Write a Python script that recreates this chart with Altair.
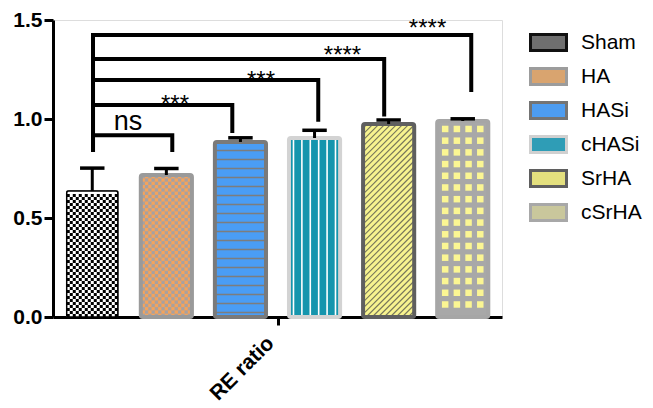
import altair as alt
import pandas as pd
import numpy as np

# ---------------- data ----------------
groups = ["Sham", "HA", "HASi", "cHASi", "SrHA", "cSrHA"]
means = [0.636, 0.717, 0.884, 0.904, 0.975, 0.990]
err_top = [0.752, 0.750, 0.905, 0.943, 0.995, 1.001]

bracket_start_x = 0.01
bracket_start_y = 0.833
bracket_y = [0.918, 1.071, 1.197, 1.303, 1.424]
bracket_end_x = [1.08, 1.89, 3.05, 3.94, 5.115]
bracket_drop = [0.833, 0.929, 0.986, 1.012, 1.136]
bracket_label = ["ns", "***", "***", "****", "****"]
label_x = [0.482, 1.117, 2.277, 3.377, 4.525]
label_y = [0.944, 1.036, 1.157, 1.283, 1.419]

y_ticks = [0.0, 0.5, 1.0, 1.5]
x_label = "RE ratio"

# ---------------- styles ----------------
legend_fill = ["#6f6f6f", "#d9a46f", "#4d9cf0", "#2f9db6", "#e4e07e", "#c9c79c"]
legend_stroke = ["#111111", "#9c9c9c", "#747474", "#d0d0d0", "#5f5f5f", "#a8a8a8"]
bg_fill = ["#ffffff", "#f3a35c", "#4a9df5", "#1595ad", "#f7f38f", "#a8a8a8"]
outline = ["#000000", "#9a9a9a", "#7a7a7a", "#d3d3d3", "#5f5f5f", "#a6a6a6"]
outline_w = [1.5, 4, 4, 4, 4, 4]

W, H = 449, 297
XMIN, XMAX = -0.53, 5.53
YMAX = 1.5
PX = W / (XMAX - XMIN)   # px per x unit
PY = H / YMAX            # px per y unit
HW = 0.345               # bar half width (x units)
FONT = "Liberation Sans"

bars = pd.DataFrame({
    "group": groups,
    "idx": list(range(len(groups))),
    "mean": means,
    "err": err_top,
    "bg": bg_fill,
    "ol": outline,
    "olw": outline_w,
})
bars["x0"] = bars["idx"] - HW
bars["x1"] = bars["idx"] + HW
bars["c0"] = bars["idx"] - 0.165
bars["c1"] = bars["idx"] + 0.165
bars["zero"] = 0.0

# ---------------- pattern textures (derived from bar heights) ----------------
rects = []   # x, x2, y, y2, color
rules = []   # x, x2, y, y2, color, width
bw = 2 * HW * PX
for i, (g, m) in enumerate(zip(groups, means)):
    left = (i - HW)
    hpx = m * PY
    def ux(u):
        return left + u / PX
    def vy(v):
        return v / PY
    if g in ("Sham", "HA"):
        c = 3.0 if g == "Sham" else 3.3
        col = "#000000" if g == "Sham" else "#a7a1a1"
        nx = int(bw // c)
        ny = int(hpx // c)
        offx = (bw - nx * c) / 2
        for a in range(nx):
            for b in range(ny):
                if (a + b) % 2 == 0:
                    rects.append((ux(offx + a * c), ux(offx + (a + 1) * c), vy(b * c), vy((b + 1) * c), col))
    elif g == "HASi":
        v = 4.5
        while v < hpx - 2:
            rules.append((ux(0), ux(bw), vy(v), vy(v), "#7d7d7d", 1.5))
            v += 9.0
    elif g == "cHASi":
        u = 4.5
        while u < bw - 2:
            rules.append((ux(u), ux(u), vy(0), vy(hpx), "#ffffff", 1.6))
            u += 8.4
    elif g == "SrHA":
        s = 6.0
        cc = -bw
        while cc < hpx:
            us = max(0.0, -cc)
            ue = min(bw, hpx - cc)
            if us < ue:
                rules.append((ux(us), ux(ue), vy(us + cc), vy(ue + cc), "#76765a", 1.1))
            cc += s
    elif g == "cSrHA":
        sq = 6.5
        step = 11.7
        cols = [bw / 2 + (k - 1.5) * step for k in range(4)]
        v = hpx - 8.0
        while v - sq / 2 > 0:
            for cx in cols:
                rects.append((ux(cx - sq / 2), ux(cx + sq / 2), vy(v - sq / 2), vy(v + sq / 2), "#fbf693"))
            v -= step

pat_rects = pd.DataFrame(rects, columns=["x", "x2", "y", "y2", "col"])
pat_rules = pd.DataFrame(rules, columns=["x", "x2", "y", "y2", "col", "w"])

# ---------------- brackets ----------------
brows = []
for k in range(len(bracket_y)):
    pts = [(bracket_start_x, bracket_start_y), (bracket_start_x, bracket_y[k]),
           (bracket_end_x[k], bracket_y[k]), (bracket_end_x[k], bracket_drop[k])]
    for o, (px_, py_) in enumerate(pts):
        brows.append({"b": k, "o": o, "x": px_, "y": py_})
brk = pd.DataFrame(brows)

labels = pd.DataFrame({"x": label_x, "y": label_y, "t": bracket_label,
                       "fs": [27 if t == "ns" else 24 for t in bracket_label]})

# ---------------- scales / axes ----------------
xs = alt.Scale(domain=[XMIN, XMAX], nice=False, zero=False)
ys = alt.Scale(domain=[0, YMAX], nice=False)

x_axis = alt.Axis(values=[2.5], labelExpr=f"'{x_label}'", labelAngle=-45, labelAlign="right",
                  labelBaseline="bottom", labelFont=FONT, labelFontWeight="bold", labelFontSize=21,
                  labelColor="black", tickSize=8, tickWidth=3, tickColor="black",
                  domainColor="black", domainWidth=3, grid=False, title=None, labelPadding=22)
y_axis = alt.Axis(values=y_ticks, format=".1f", labelFont=FONT, labelFontWeight="bold",
                  labelFontSize=21, labelColor="black", tickSize=9, tickWidth=3, tickColor="black",
                  domainColor="black", domainWidth=3, grid=False, title=None, labelPadding=2)

base = alt.Chart(bars)

legend_layer = base.mark_rect().encode(
    x=alt.X("x0:Q", scale=xs, axis=x_axis),
    x2="x1:Q",
    y=alt.Y("zero:Q", scale=ys, axis=y_axis),
    y2="mean:Q",
    fill=alt.Fill("group:N", scale=alt.Scale(domain=groups, range=legend_fill),
                  legend=alt.Legend(title=None, orient="none", legendX=476, legendY=3,
                                    symbolType="M-1,-0.44 L1,-0.44 L1,0.44 L-1,0.44 Z",
                                    symbolSize=1296, symbolStrokeWidth=3,
                                    labelFont=FONT, labelFontSize=21, labelColor="black",
                                    labelOffset=13, rowPadding=0, padding=0)),
    stroke=alt.Stroke("group:N", scale=alt.Scale(domain=groups, range=legend_stroke)),
)

bg_layer = base.mark_rect().encode(
    x="x0:Q", x2="x1:Q", y="zero:Q", y2="mean:Q",
    fill=alt.Fill("bg:N", scale=None),
)

rect_layer = alt.Chart(pat_rects).mark_rect(strokeWidth=0).encode(
    x="x:Q", x2="x2:Q", y="y:Q", y2="y2:Q", fill=alt.Fill("col:N", scale=None)
)

rule_layer = alt.Chart(pat_rules).mark_rule().encode(
    x="x:Q", x2="x2:Q", y="y:Q", y2="y2:Q",
    stroke=alt.Stroke("col:N", scale=None),
    strokeWidth=alt.StrokeWidth("w:Q", scale=None),
)

outline_layer = base.mark_rect(fillOpacity=0, cornerRadius=2).encode(
    x="x0:Q", x2="x1:Q", y="zero:Q", y2="mean:Q",
    stroke=alt.Stroke("ol:N", scale=None),
    strokeWidth=alt.StrokeWidth("olw:Q", scale=None),
)

err_v = base.mark_rule(color="black", strokeWidth=3).encode(
    x="idx:Q", y="mean:Q", y2="err:Q"
)
err_cap = base.mark_rule(color="black", strokeWidth=3.5).encode(
    x="c0:Q", x2="c1:Q", y="err:Q"
)

bracket_layer = alt.Chart(brk).mark_line(color="black", strokeWidth=4, strokeJoin="miter",
                                          strokeCap="butt").encode(
    x="x:Q", y="y:Q", detail="b:N", order="o:Q"
)

text_layer = alt.Chart(labels).mark_text(font=FONT, color="black", baseline="alphabetic",
                                         align="center").encode(
    x="x:Q", y="y:Q", text="t:N", size=alt.Size("fs:Q", scale=None)
)

chart = alt.layer(
    legend_layer, bg_layer, rect_layer, rule_layer, outline_layer,
    err_v, err_cap, bracket_layer, text_layer
).properties(
    width=W, height=H,
    autosize=alt.AutoSizeParams(type="none"),
    padding={"left": 45, "top": 12, "right": 143, "bottom": 88},
).configure_view(stroke=None).configure(background="white")

chart.save("out.html", embed_options={"renderer": "svg", "actions": False})
